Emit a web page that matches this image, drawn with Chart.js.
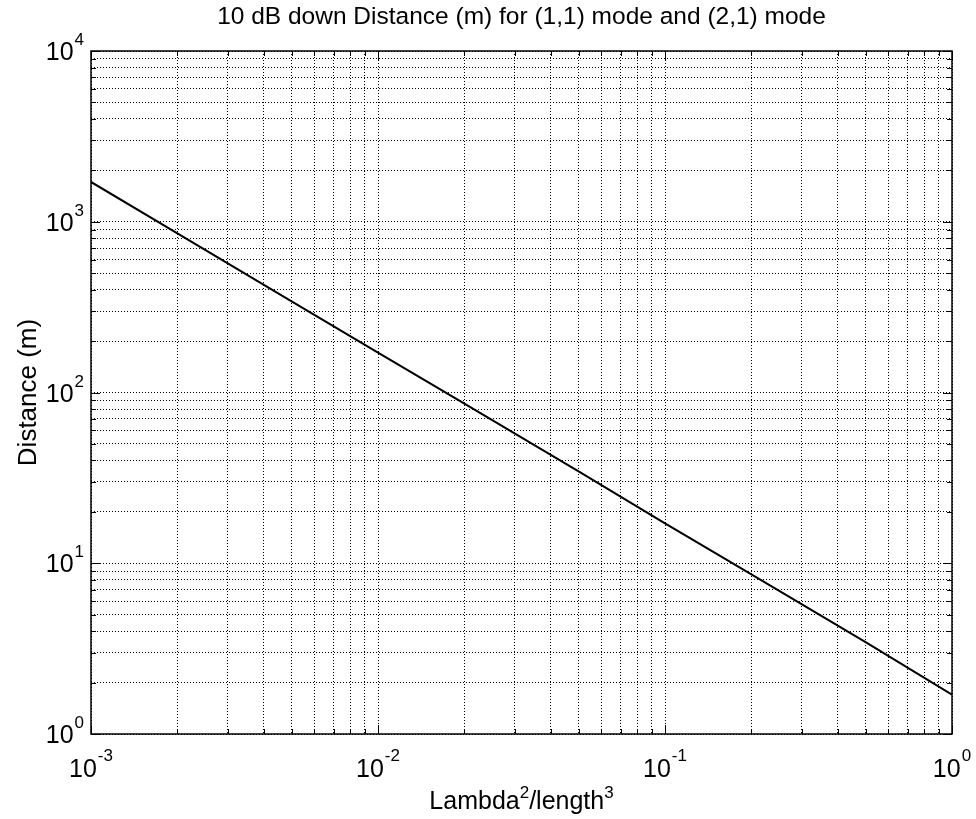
<!DOCTYPE html>
<html>
<head>
<meta charset="utf-8">
<title>10 dB down Distance</title>
<script src="https://cdn.jsdelivr.net/npm/chart.js@4.4.1/dist/chart.umd.min.js"></script>
<style>
  body { margin: 0; background: #fff; }
  canvas { display: block; }
</style>
</head>
<body>
<canvas id="chart" width="976" height="819"></canvas>
<script>
// values
const lambdaRatio = [0.001, 0.002, 0.005, 0.01, 0.02, 0.05, 0.1, 0.2, 0.5, 1];
const distance = [1710, 855, 342, 171, 86, 34.5, 17.1, 8.6, 3.45, 1.7];

// decade exponents for the tick labels, and the minor steps inside a decade
const xDecades = [-3, -2, -1, 0];
const yDecades = [0, 1, 2, 3, 4];
const minorSteps = [1, 2, 3, 4, 5, 6, 7, 8, 9];

const FONT = '"Liberation Sans", Arial, Helvetica, sans-serif';

function logTicks(decades) {
  const out = [];
  decades.forEach((e, i) => {
    if (i === decades.length - 1) {
      out.push(Math.pow(10, e));
      return;
    }
    minorSteps.forEach(m => out.push(+(m * Math.pow(10, e)).toPrecision(6)));
  });
  return out;
}

const xTickValues = logTicks(xDecades);
const yTickValues = logTicks(yDecades);

// draws "10" with a raised exponent, x is the left edge
function drawPower(ctx, exp, x, baseY, supY) {
  ctx.font = '25px ' + FONT;
  ctx.fillText('10', x, baseY);
  const w = ctx.measureText('10').width;
  ctx.font = '17px ' + FONT;
  ctx.fillText(String(exp), x + w + 1, supY);
}

function powerWidth(ctx, exp) {
  ctx.font = '25px ' + FONT;
  const a = ctx.measureText('10').width;
  ctx.font = '17px ' + FONT;
  return a + 1 + ctx.measureText(String(exp)).width;
}

const matlabAxes = {
  id: 'matlabAxes',
  afterDraw(chart) {
    const ctx = chart.ctx;
    const area = chart.chartArea;
    const xs = chart.scales.x;
    const ys = chart.scales.y;
    ctx.save();
    ctx.fillStyle = '#000';
    ctx.strokeStyle = '#000';

    // inner tick marks on all four sides
    ctx.lineWidth = 1;
    xTickValues.forEach(v => {
      const px = Math.round(xs.getPixelForValue(v)) + 0.5;
      const len = xDecades.some(e => Math.abs(Math.pow(10, e) - v) < 1e-12) ? 9 : 5;
      ctx.beginPath();
      ctx.moveTo(px, area.bottom); ctx.lineTo(px, area.bottom - len);
      ctx.moveTo(px, area.top); ctx.lineTo(px, area.top + len);
      ctx.stroke();
    });
    yTickValues.forEach(v => {
      const py = Math.round(ys.getPixelForValue(v)) + 0.5;
      const len = yDecades.some(e => Math.abs(Math.pow(10, e) - v) < 1e-9) ? 9 : 5;
      ctx.beginPath();
      ctx.moveTo(area.left, py); ctx.lineTo(area.left + len, py);
      ctx.moveTo(area.right, py); ctx.lineTo(area.right - len, py);
      ctx.stroke();
    });

    // box
    ctx.lineWidth = 1.5;
    ctx.strokeRect(area.left, area.top, area.right - area.left, area.bottom - area.top);

    // x tick labels
    ctx.textAlign = 'left';
    ctx.textBaseline = 'alphabetic';
    xDecades.forEach(e => {
      const px = xs.getPixelForValue(Math.pow(10, e));
      const w = powerWidth(ctx, e);
      drawPower(ctx, e, px - w / 2, area.bottom + 43, area.bottom + 27);
    });

    // y tick labels
    yDecades.forEach(e => {
      const py = ys.getPixelForValue(Math.pow(10, e));
      const w = powerWidth(ctx, e);
      drawPower(ctx, e, area.left - 7 - w, py + 9, py - 6);
    });

    // title
    ctx.font = '24.5px ' + FONT;
    ctx.textAlign = 'center';
    ctx.fillText('10 dB down Distance (m) for (1,1) mode and (2,1) mode', (area.left + area.right) / 2, 24);

    // x axis title with superscripts
    const parts = [['Lambda', 25, 0], ['2', 17, -11], ['/length', 25, 0], ['3', 17, -11]];
    ctx.textAlign = 'left';
    let total = 0;
    parts.forEach(p => { ctx.font = p[1] + 'px ' + FONT; total += ctx.measureText(p[0]).width; });
    let cx = (area.left + area.right) / 2 - total / 2;
    parts.forEach(p => {
      ctx.font = p[1] + 'px ' + FONT;
      ctx.fillText(p[0], cx, 809 + p[2]);
      cx += ctx.measureText(p[0]).width;
    });

    // y axis title
    ctx.save();
    ctx.translate(36, (area.top + area.bottom) / 2);
    ctx.rotate(-Math.PI / 2);
    ctx.textAlign = 'center';
    ctx.font = '26px ' + FONT;
    ctx.fillText('Distance (m)', 0, 0);
    ctx.restore();

    ctx.restore();
  }
};

const ctx = document.getElementById('chart').getContext('2d');
const chart = new Chart(ctx, {
  type: 'line',
  data: {
    datasets: [{
      data: lambdaRatio.map((x, i) => ({ x: x, y: distance[i] })),
      borderColor: '#000',
      borderWidth: 2,
      pointRadius: 0,
      tension: 0,
      fill: false
    }]
  },
  options: {
    responsive: false,
    animation: false,
    layout: { padding: { left: 91, right: 24, top: 51, bottom: 85 } },
    plugins: {
      legend: { display: false },
      tooltip: { enabled: false },
      title: { display: false }
    },
    scales: {
      x: {
        type: 'logarithmic',
        min: 0.001,
        max: 1,
        afterBuildTicks: s => { s.ticks = xTickValues.map(v => ({ value: v })); },
        ticks: { display: false },
        grid: { color: '#000', lineWidth: 1, drawTicks: false },
        border: { display: false, dash: [1, 2] }
      },
      y: {
        type: 'logarithmic',
        min: 1,
        max: 10000,
        afterBuildTicks: s => { s.ticks = yTickValues.map(v => ({ value: v })); },
        ticks: { display: false },
        grid: { color: '#000', lineWidth: 1, drawTicks: false },
        border: { display: false, dash: [1, 2] }
      }
    }
  },
  plugins: [matlabAxes]
});
</script>
</body>
</html>
